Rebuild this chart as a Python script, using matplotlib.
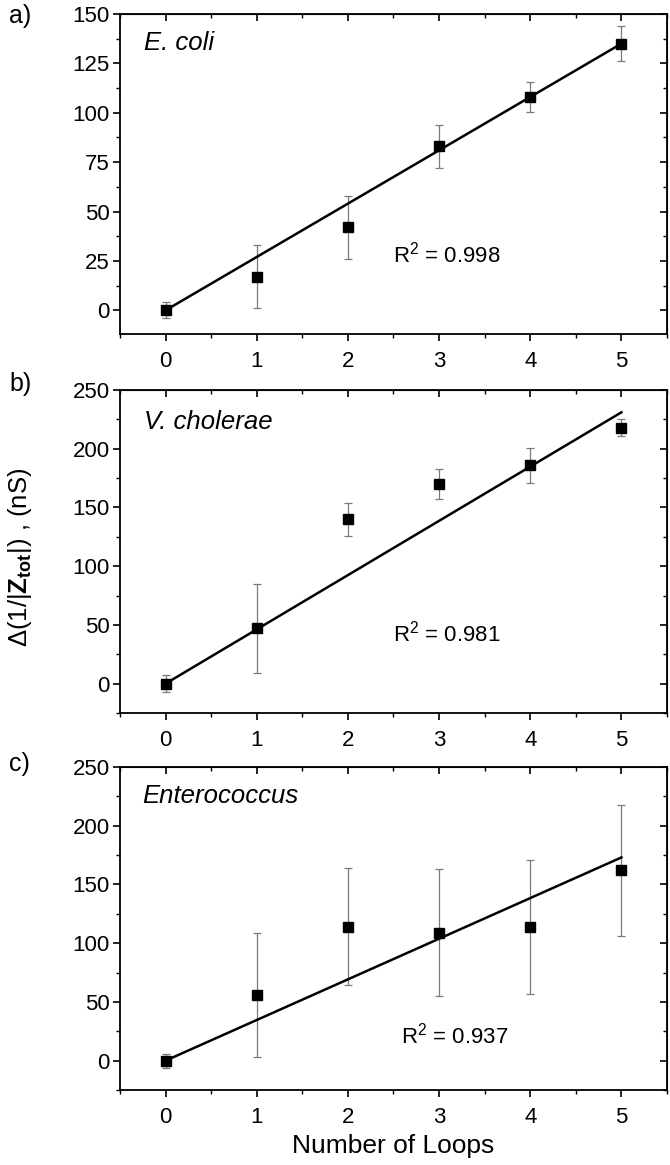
import matplotlib
matplotlib.use('Agg')
import matplotlib.pyplot as plt
from matplotlib.ticker import MultipleLocator

plt.rcParams['font.family'] = ['Liberation Sans', 'DejaVu Sans']
plt.rcParams['mathtext.fontset'] = 'custom'
plt.rcParams['mathtext.rm'] = 'Liberation Sans'
plt.rcParams['mathtext.it'] = 'Liberation Sans:italic'
plt.rcParams['mathtext.bf'] = 'Liberation Sans:bold'

# ---------------- data ----------------
loops = [0, 1, 2, 3, 4, 5]

ecoli_mean = [0, 17, 42, 83, 108, 135]
ecoli_err = [4, 16, 16, 11, 7.5, 9]

vchol_mean = [0, 47, 140, 170, 186, 218]
vchol_err = [7, 38, 14, 13, 15, 7.5]

entero_mean = [0, 56, 114, 109, 114, 162]
entero_err = [6, 52.5, 50, 54, 57, 56]

fit_x = [0, 5]
ecoli_fit = [0, 135]
vchol_fit = [0, 231]
entero_fit = [0, 173]

species = ['E. coli', 'V. cholerae', 'Enterococcus']
r2_values = ['0.998', '0.981', '0.937']
panel_labels = ['a)', 'b)', 'c)']
xticks = [0, 1, 2, 3, 4, 5]
yticks_a = [0, 25, 50, 75, 100, 125, 150]
yticks_bc = [0, 50, 100, 150, 200, 250]

# ---------------- layout ----------------
W, H = 670, 1165
fig = plt.figure(figsize=(W / 100, H / 100), dpi=100)

left_px, right_px = 120, 667
panels_px = [(14, 334), (390, 713), (767, 1090)]
label_tops = [4, 372, 752]
ylims = [(-12, 150), (-25, 250), (-25, 250)]
ytick_sets = [yticks_a, yticks_bc, yticks_bc]
yminor = [12.5, 25, 25]
means = [ecoli_mean, vchol_mean, entero_mean]
errs = [ecoli_err, vchol_err, entero_err]
fits = [ecoli_fit, vchol_fit, entero_fit]
r2_pos = [(2.5, 28), (2.5, 43), (2.58, 21)]
sp_pos = [(0.043, 0.91), (0.044, 0.902), (0.041, 0.91)]

FS = 16

for i in range(3):
    top, bot = panels_px[i]
    ax = fig.add_axes([left_px / W, 1 - bot / H, (right_px - left_px) / W, (bot - top) / H])
    ax.errorbar(loops, means[i], yerr=errs[i], fmt='none', ecolor='#7a7a7a',
                elinewidth=0.9, capsize=3, capthick=0.9, zorder=2)
    ax.plot(fit_x, fits[i], color='black', lw=1.8, zorder=3)
    ax.plot(loops, means[i], 's', color='black', ms=6.5, zorder=4)

    ax.set_xlim(-0.5, 5.5)
    ax.set_ylim(*ylims[i])
    ax.set_xticks(xticks)
    ax.set_yticks(ytick_sets[i])
    ax.xaxis.set_minor_locator(MultipleLocator(0.5))
    ax.yaxis.set_minor_locator(MultipleLocator(yminor[i]))
    ax.tick_params(axis='both', which='major', direction='out', length=5, width=1.2,
                   labelsize=FS)
    ax.tick_params(axis='both', which='minor', direction='out', length=3, width=1.0)
    ax.tick_params(axis='x', pad=7)
    ax.tick_params(axis='y', pad=2.5)
    for s in ax.spines.values():
        s.set_linewidth(1.3)

    # mirrored inward ticks on top and right
    axt = ax.secondary_xaxis('top')
    axt.set_xticks(xticks)
    axt.xaxis.set_minor_locator(MultipleLocator(0.5))
    axt.tick_params(axis='x', which='major', direction='in', length=5, width=1.2, labeltop=False)
    axt.tick_params(axis='x', which='minor', direction='in', length=3, width=1.0)
    axr = ax.secondary_yaxis('right')
    axr.set_yticks(ytick_sets[i])
    axr.yaxis.set_minor_locator(MultipleLocator(yminor[i]))
    axr.tick_params(axis='y', which='major', direction='in', length=5, width=1.2, labelright=False)
    axr.tick_params(axis='y', which='minor', direction='in', length=3, width=1.0)

    ax.text(sp_pos[i][0], sp_pos[i][1], species[i], transform=ax.transAxes,
            fontsize=18.5, style='italic', ha='left', va='center')
    ax.text(r2_pos[i][0], r2_pos[i][1], r'R$^2$ = ' + r2_values[i],
            fontsize=16, ha='left', va='center')

    fig.text(9 / W, 1 - label_tops[i] / H, panel_labels[i], fontsize=18,
             ha='left', va='top')

fig.text(20 / W, 1 - 557 / H, r'$\Delta$(1/|$\mathbf{Z_{tot}}$|) , (nS)',
         rotation=90, fontsize=18.5, ha='center', va='center')
fig.text((left_px + right_px) / 2 / W, 1 - 1146 / H, 'Number of Loops',
         fontsize=19, ha='center', va='center')

fig.savefig('out.png', dpi=100)
